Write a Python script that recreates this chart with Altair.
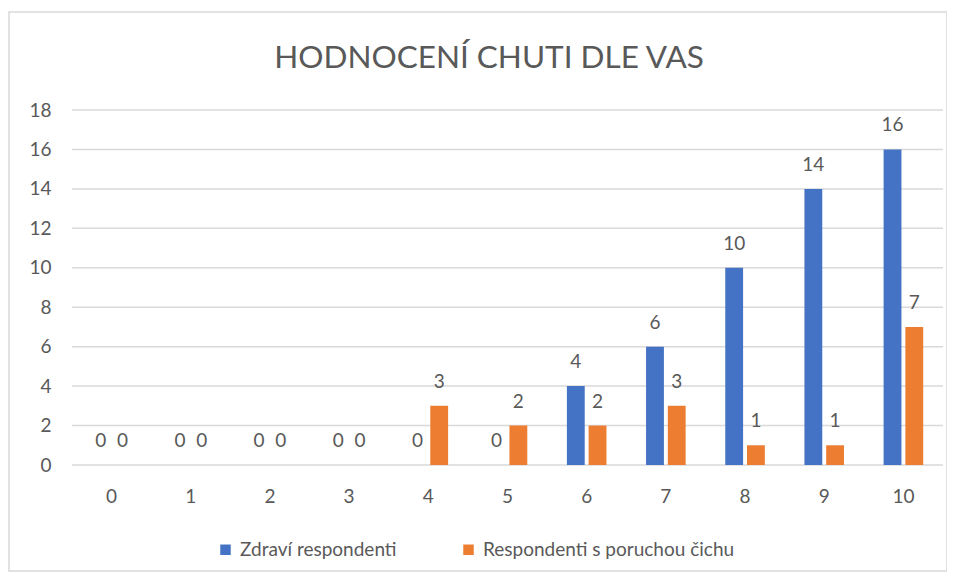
import altair as alt
import pandas as pd

categories = ["0", "1", "2", "3", "4", "5", "6", "7", "8", "9", "10"]
healthy = [0, 0, 0, 0, 0, 0, 4, 6, 10, 14, 16]
impaired = [0, 0, 0, 0, 3, 2, 2, 3, 1, 1, 7]
series = ["Zdraví respondenti", "Respondenti s poruchou čichu"]
colors = ["#4472C4", "#ED7D31"]
y_ticks = [0, 2, 4, 6, 8, 10, 12, 14, 16, 18]
title_text = "HODNOCENÍ CHUTI DLE VAS"

rows = []
for c, h, i in zip(categories, healthy, impaired):
    rows.append({"cat": c, "series": series[0], "value": h})
    rows.append({"cat": c, "series": series[1], "value": i})
df = pd.DataFrame(rows)

FONT = "Lato"
TXT = "#595959"
FS = 19

x_enc = alt.X("cat:N", sort=categories, title=None,
              scale=alt.Scale(paddingInner=0.5, paddingOuter=0.25),
              axis=alt.Axis(labelAngle=0, domain=False, ticks=False, labelPadding=22,
                            labelFontSize=FS, labelColor=TXT, labelFont=FONT, grid=False))
xo_enc = alt.XOffset("series:N", sort=series, scale=alt.Scale(paddingInner=0.18))
y_scale = alt.Scale(domain=[0, 18], nice=False)
y_axis = alt.Axis(values=y_ticks, tickCount=10, domain=False, ticks=False,
                  labelPadding=21, labelOverlap=False, grid=False,
                  labelFontSize=FS, labelColor=TXT, labelFont=FONT)
y_enc = alt.Y("value:Q", title=None, scale=y_scale, axis=y_axis)

base = alt.Chart(df)

grid = alt.Chart(pd.DataFrame({"g": y_ticks})).mark_rule(
    color="#d9d9d9", strokeWidth=1.5
).encode(y=alt.Y("g:Q", title=None, scale=y_scale, axis=y_axis),
         x=alt.value(0), x2=alt.value(871))

bars = base.mark_bar().encode(
    x=x_enc, xOffset=xo_enc, y=y_enc,
    color=alt.Color("series:N", sort=series, title=None,
                    scale=alt.Scale(domain=series, range=colors),
                    legend=alt.Legend(orient="none", legendX=144, legendY=430,
                                      direction="horizontal", symbolType="square",
                                      symbolSize=110, symbolStrokeWidth=0,
                                      labelFontSize=FS, labelColor=TXT, labelFont=FONT,
                                      labelLimit=500,
                                      labelOffset=5, columnPadding=62)),
)

labels = base.mark_text(baseline="middle", dy=-24, fontSize=FS, color=TXT, font=FONT).encode(
    x=x_enc,
    xOffset=xo_enc,
    y=y_enc,
    text="value:Q",
)

one = pd.DataFrame({"t": [title_text]})

frame = alt.Chart(one).mark_rect(
    filled=False, stroke="#d9d9d9", strokeWidth=1.5
).encode(x=alt.value(-63), x2=alt.value(875), y=alt.value(-98), y2=alt.value(461))

title = alt.Chart(one).mark_text(
    fontSize=31.5, font=FONT, color=TXT, align="center", baseline="alphabetic"
).encode(x=alt.value(417), y=alt.value(-42), text="t:N")

chart = alt.layer(frame, title, grid, bars, labels).properties(
    width=871, height=355,
    autosize=alt.AutoSizeParams(type="none"),
    padding={"left": 64, "top": 102, "right": 4, "bottom": 108},
).configure_view(stroke=None)

chart.save("out.html", embed_options={"renderer": "svg", "actions": False})
